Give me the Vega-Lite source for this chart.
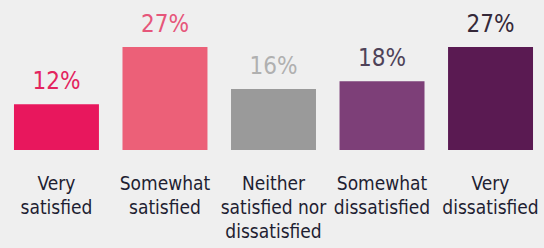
{
  "$schema": "https://vega.github.io/schema/vega-lite/v6.json",
  "width": 544,
  "height": 150,
  "autosize": "none",
  "padding": {"left": 0, "top": 0, "right": 0, "bottom": 98},
  "background": "#efefef",
  "config": {"view": {"stroke": null}},
  "data": {"values": [
    {"category": "Very|satisfied", "pct": 0.12},
    {"category": "Somewhat|satisfied", "pct": 0.27},
    {"category": "Neither|satisfied nor|dissatisfied", "pct": 0.16},
    {"category": "Somewhat|dissatisfied", "pct": 0.18},
    {"category": "Very|dissatisfied", "pct": 0.27}
  ]},
  "encoding": {
    "x": {
      "field": "category", "type": "nominal", "sort": null,
      "scale": {"paddingInner": 0.217, "paddingOuter": 0.115, "align": 0.56},
      "axis": {
        "title": null, "domain": false, "ticks": false, "labelAngle": 0,
        "labelExpr": "split(datum.label, '|')",
        "labelFont": "'DejaVu Sans Condensed', Roboto", "labelFontSize": 19,
        "labelLineHeight": 24, "labelColor": "#1e1e32",
        "labelPadding": 24, "labelOverlap": false, "labelLimit": 0, "labelBound": false,
        "labelBaseline": "top"
      }
    },
    "y": {
      "field": "pct", "type": "quantitative",
      "scale": {"domain": [0, 0.393], "nice": false, "zero": true},
      "axis": null
    }
  },
  "layer": [
    {
      "mark": {"type": "bar"},
      "encoding": {
        "color": {
          "field": "category", "type": "nominal", "sort": null, "legend": null,
          "scale": {"range": ["#e8175d", "#ec6078", "#9a9a9a", "#7d3f78", "#5a1a52"]}
        }
      }
    },
    {
      "mark": {"type": "text", "font": "'DejaVu Sans Condensed', Roboto", "fontSize": 24, "baseline": "alphabetic", "dy": -15},
      "encoding": {
        "text": {"field": "pct", "type": "quantitative", "format": ".0%"},
        "color": {
          "field": "category", "type": "nominal", "sort": null, "legend": null,
          "scale": {"range": ["#e3245e", "#e6567a", "#b0b0b0", "#4e4258", "#342838"]}
        }
      }
    }
  ],
  "resolve": {"scale": {"color": "independent"}}
}
